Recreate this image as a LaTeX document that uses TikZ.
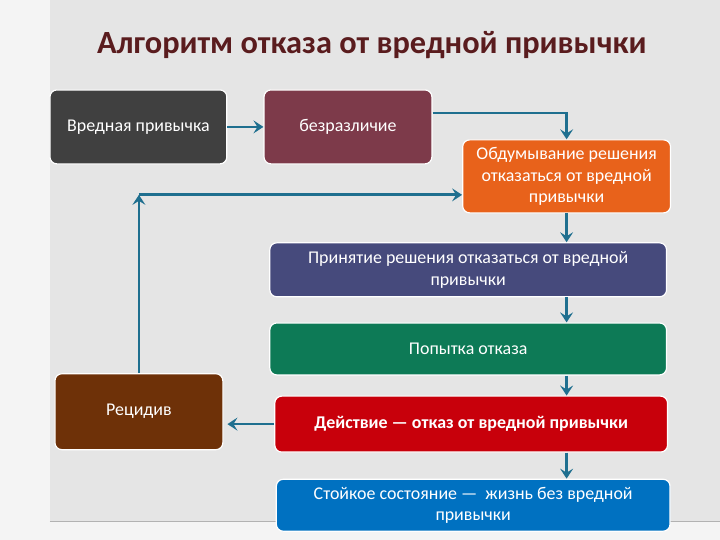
\documentclass[tikz,border=0pt]{standalone}
\usepackage{fontspec}
\setmainfont{Carlito}
\usepackage{xcolor}
\definecolor{HBpage}{HTML}{F4F4F4}
\definecolor{HBpanel}{HTML}{E5E5E5}
\definecolor{HBtitle}{HTML}{5A1C1E}
\definecolor{HBteal}{HTML}{1F6F8F}
\definecolor{HBgray}{HTML}{404040}
\definecolor{HBwine}{HTML}{7D3A4A}
\definecolor{HBorange}{HTML}{E8621B}
\definecolor{HBindigo}{HTML}{464A7C}
\definecolor{HBgreen}{HTML}{0D7A56}
\definecolor{HBred}{HTML}{C8000B}
\definecolor{HBblue}{HTML}{0071C1}
\definecolor{HBbrown}{HTML}{6E3108}
\usetikzlibrary{positioning,arrows.meta}

\begin{document}
\begin{tikzpicture}[x=1bp, y=-1bp,
  box/.style={draw=white, line width=1.2pt, rounded corners=7pt, text=white,
    align=center, inner sep=3pt, font=\fontsize{18}{21.5}\selectfont},
  arr/.style={-{Stealth[length=10bp, width=13bp, inset=4bp]}, line width=2.8bp, color=HBteal}
]
% page and panel
\fill[HBpage] (0,0) rectangle (720,540);
\fill[HBpanel] (50,0) rectangle (720,522);
\draw[gray!60, line width=1pt] (50,522) -- (720,522);
\useasboundingbox (0,0) rectangle (720,540);

\node[font=\bfseries\fontsize{32.5}{36}\selectfont, text=HBtitle] (title) at (372,45) {Алгоритм отказа от вредной привычки};

% top row
\node[box, fill=HBgray, minimum width=177bp, minimum height=74bp] (habit) at (138.5,127) {Вредная привычка};
\node[box, fill=HBwine, minimum width=168bp, minimum height=74bp, right=36bp of habit] (indiff) {безразличие};

% main column
\node[box, fill=HBorange, minimum width=208bp, minimum height=73bp] (think) at (567,176.5)
  {Обдумывание решения\\отказаться от вредной\\привычки};
\node[box, fill=HBindigo, minimum width=397bp, minimum height=54bp] (decide) at (468.5,270)
  {Принятие решения отказаться от вредной\\привычки};
\node[box, fill=HBgreen, minimum width=397bp, minimum height=52bp, below=25bp of decide] (try) {Попытка отказа};
\node[box, fill=HBred, minimum width=393bp, minimum height=56bp, below=20bp of try, xshift=3bp] (act)
  {\bfseries Действие — отказ от вредной привычки};
\node[box, fill=HBblue, minimum width=394bp, minimum height=52bp, below=26bp of act, xshift=2bp] (stable)
  {Стойкое состояние —~ жизнь без вредной\\привычки};

% relapse
\node[box, fill=HBbrown, minimum width=168bp, minimum height=76bp] (relapse) at (139,412) {Рецидив};
\coordinate (turn) at (139,195);

\draw[arr] (habit) -- (indiff);
\draw[arr] ([yshift=14bp]indiff.east) -| (think.north);
\draw[arr] (think.south) -- (think.south |- decide.north);
\draw[arr] (think.south |- decide.south) -- (think.south |- try.north);
\draw[arr] (think.south |- try.south) -- (think.south |- act.north);
\draw[arr] (think.south |- act.south) -- (think.south |- stable.north);
\draw[arr, shorten >=4bp] (act.west) -- (act.west -| relapse.east);
\draw[arr] (relapse.north) -- (turn);
\draw[arr] (turn) -- (turn -| think.west);
\end{tikzpicture}
\end{document}
